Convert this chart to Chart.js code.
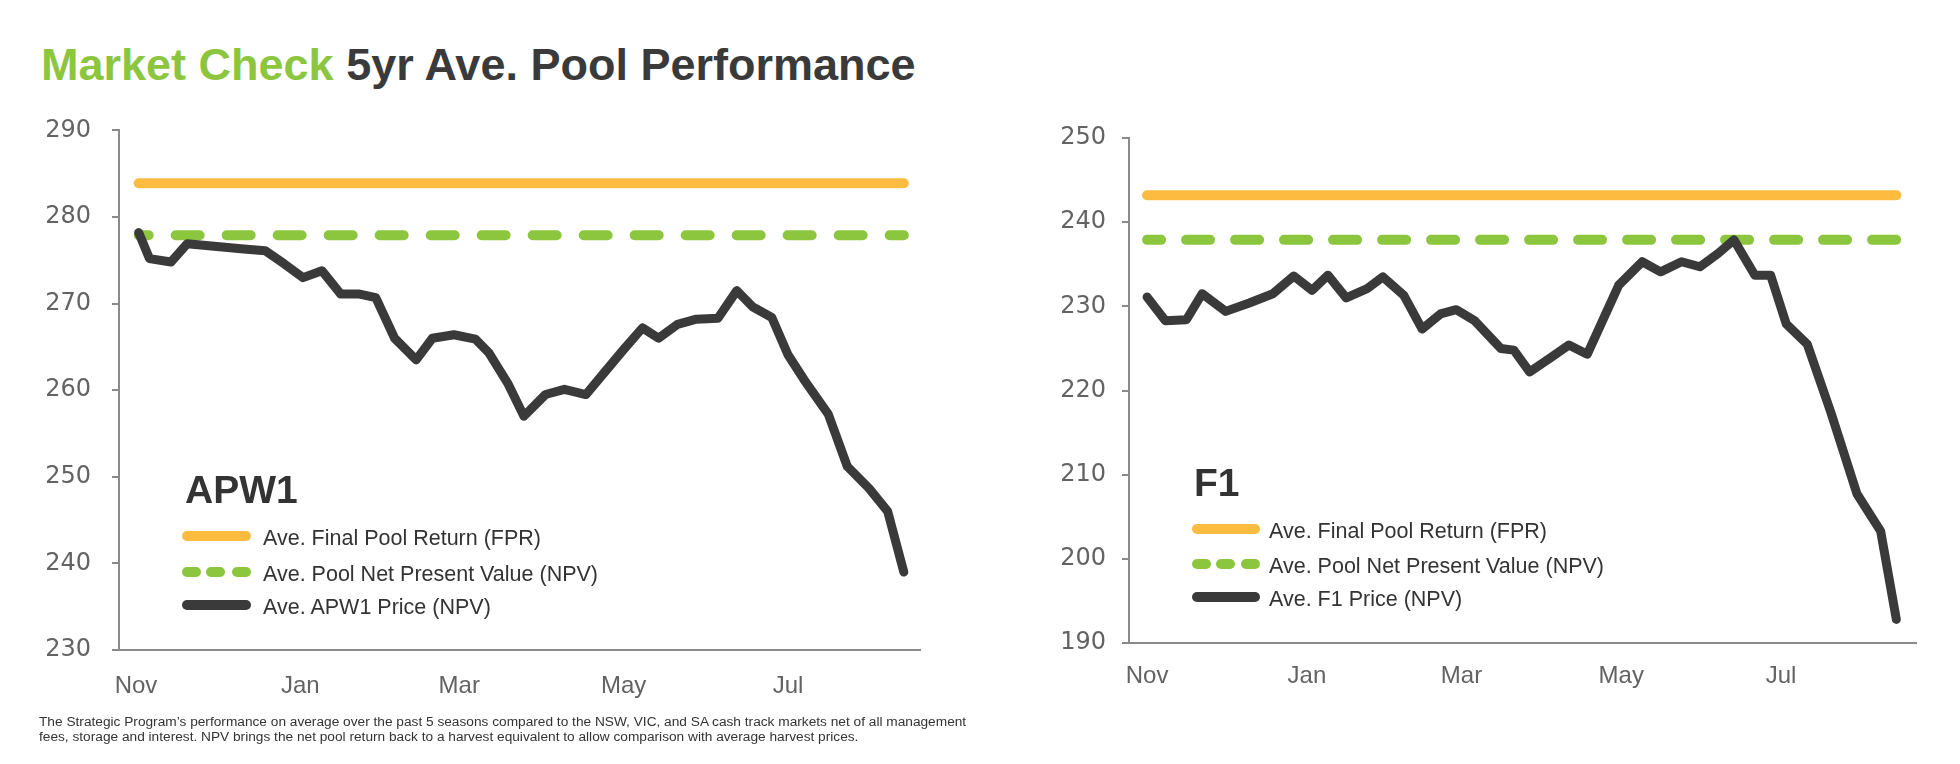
<!DOCTYPE html>
<html>
<head>
<meta charset="utf-8">
<script src="https://cdn.jsdelivr.net/npm/chart.js@4.4.1/dist/chart.umd.min.js"></script>
<style>
  body { margin: 0; width: 1960px; height: 764px; background: #fff; position: relative; overflow: hidden;
         font-family: "Liberation Sans", Arial, sans-serif; }
  .title { position: absolute; left: 41px; top: 42px; font-size: 45px; line-height: 45px; font-weight: bold;
           color: #3a3a3a; white-space: nowrap; }
  .title .green { color: #8cc63f; }
  canvas { position: absolute; }
  .legend { position: absolute; color: #333; }
  .legend .name { position: absolute; left: 0; font-size: 39px; line-height: 39px; font-weight: bold; color: #333; white-space: nowrap; }
  .legend .row { position: absolute; left: 0; height: 22px; white-space: nowrap; }
  .legend .sw { position: absolute; left: 0; top: 6px; height: 10px; border-radius: 5px; }
  .legend .dots { position: absolute; left: 0; top: 6px; height: 10px; }
  .legend .dots span { position: absolute; top: 0; width: 19px; height: 10px; border-radius: 5px; background: #8cc63f; }
  .legend .txt { position: absolute; top: 2px; font-size: 21.5px; line-height: 22px; }
  .note { position: absolute; left: 39px; top: 715px; font-size: 13.7px; line-height: 14.5px; color: #333; white-space: nowrap; }
</style>
</head>
<body>
<div class="title"><span class="green">Market Check</span> 5yr Ave. Pool Performance</div>

<canvas id="apw1" width="940" height="620" style="left:0;top:95px"></canvas>
<canvas id="f1" width="960" height="620" style="left:980px;top:100px"></canvas>

<div class="legend" style="left:182px;top:0">
  <div class="name" style="top:470px;left:3px">APW1</div>
  <div class="row" style="top:525px"><div class="sw" style="width:69px;background:#fdbb40"></div><div class="txt" style="left:81px">Ave. Final Pool Return (FPR)</div></div>
  <div class="row" style="top:561px"><div class="dots"><span style="left:0"></span><span style="left:24px"></span><span style="left:50px"></span></div><div class="txt" style="left:81px">Ave. Pool Net Present Value (NPV)</div></div>
  <div class="row" style="top:594px"><div class="sw" style="width:69px;background:#3a3a3a"></div><div class="txt" style="left:81px">Ave. APW1 Price (NPV)</div></div>
</div>

<div class="legend" style="left:1192px;top:0">
  <div class="name" style="top:463px;left:2px">F1</div>
  <div class="row" style="top:518px"><div class="sw" style="width:68px;background:#fdbb40"></div><div class="txt" style="left:77px">Ave. Final Pool Return (FPR)</div></div>
  <div class="row" style="top:553px"><div class="dots"><span style="left:0"></span><span style="left:24px"></span><span style="left:49px"></span></div><div class="txt" style="left:77px">Ave. Pool Net Present Value (NPV)</div></div>
  <div class="row" style="top:586px"><div class="sw" style="width:68px;background:#3a3a3a"></div><div class="txt" style="left:77px">Ave. F1 Price (NPV)</div></div>
</div>

<div class="note">The Strategic Program’s performance on average over the past 5 seasons compared to the NSW, VIC, and SA cash track markets net of all management<br>fees, storage and interest. NPV brings the net pool return back to a harvest equivalent to allow comparison with average harvest prices.</div>

<script>
// x values are days since 1 Nov
const monthDays = [0, 61, 120, 181, 242];
const monthLabels = ['Nov', 'Jan', 'Mar', 'May', 'Jul'];

const apw1Days = [1, 5, 13, 19, 26, 33, 40, 48, 55, 62, 69, 76, 83, 89, 96, 104, 110, 118, 126, 131, 138,
    144, 152, 159, 167, 174, 181, 188, 194, 201, 208, 216, 223, 229, 236, 242, 248, 257, 264, 272, 279, 285];
const apw1Price = [278.2, 275.2, 274.8, 276.9, 276.7, 276.5, 276.3, 276.1, 274.6, 273.0, 273.8, 271.1, 271.1,
    270.7, 266.0, 263.5, 266.0, 266.4, 265.9, 264.3, 260.8, 257.0, 259.5, 260.1, 259.5, 262.1, 264.7, 267.2,
    266.0, 267.6, 268.2, 268.3, 271.5, 269.6, 268.4, 264.1, 261.2, 257.2, 251.2, 248.7, 246.0, 239.0];
const apw1Fpr = 283.9;
const apw1Npv = 277.9;

const f1Days = [0, 7, 15, 21, 30, 39, 48, 56, 63, 69, 76, 84, 90, 98, 105, 112, 118, 125, 135, 140, 146, 154,
    161, 168, 174, 180, 189, 196, 204, 211, 218, 224, 232, 238, 244, 252, 261, 271, 280, 286];
const f1Price = [231.1, 228.3, 228.4, 231.5, 229.4, 230.4, 231.5, 233.6, 231.9, 233.7, 231.0, 232.1, 233.5,
    231.3, 227.3, 229.1, 229.6, 228.3, 225.0, 224.8, 222.2, 223.9, 225.4, 224.3, 228.4, 232.5, 235.3, 234.1,
    235.3, 234.7, 236.3, 237.9, 233.7, 233.7, 227.9, 225.5, 217.4, 207.7, 203.3, 192.8];
const f1Fpr = 243.2;
const f1Npv = 237.9;

const axisGrey = '#8a8a8a';
const tickGrey = '#636363';

function flatLine(days, value) {
    return [{x: days[0], y: value}, {x: days[days.length - 1], y: value}];
}

function renderChart(id, days, price, fpr, npv, s) {
    let ctx = document.getElementById(id).getContext('2d');
    return new Chart(ctx, {
        type: 'line',
        data: {
            datasets: [{
                label: 'price',
                data: days.map((d, i) => ({x: d, y: price[i]})),
                borderColor: '#3a3a3a',
                borderWidth: 9,
                borderCapStyle: 'round',
                borderJoinStyle: 'round',
                pointRadius: 0,
                order: 0
            }, {
                label: 'npv',
                data: flatLine(days, npv),
                borderColor: '#8cc63f',
                borderWidth: 10,
                borderCapStyle: 'round',
                borderDash: s.dash,
                borderDashOffset: s.dashOffset,
                pointRadius: 0,
                order: 1
            }, {
                label: 'fpr',
                data: flatLine(days, fpr),
                borderColor: '#fdbb40',
                borderWidth: 10,
                borderCapStyle: 'round',
                pointRadius: 0,
                order: 2
            }]
        },
        options: {
            responsive: false,
            animation: false,
            events: [],
            layout: {padding: s.padding},
            plugins: {legend: {display: false}, tooltip: {enabled: false}},
            scales: {
                x: {
                    type: 'linear',
                    min: s.xMin,
                    max: s.xMax,
                    afterBuildTicks: (scale) => { scale.ticks = monthDays.map(v => ({value: v})); },
                    afterFit: (scale) => { scale.height = 60; },
                    grid: {display: false, drawTicks: false},
                    border: {display: true, color: axisGrey, width: 2},
                    ticks: {
                        autoSkip: false,
                        maxRotation: 0,
                        padding: s.xPad,
                        color: tickGrey,
                        font: {family: 'Liberation Sans', size: 24},
                        callback: (v) => monthLabels[monthDays.indexOf(v)]
                    }
                },
                y: {
                    min: s.yMin,
                    max: s.yMax,
                    afterFit: (scale) => { scale.width = s.yWidth; },
                    grid: {drawOnChartArea: false, drawTicks: true, tickLength: 7, color: axisGrey, lineWidth: 2},
                    border: {display: true, color: axisGrey, width: 2},
                    ticks: {
                        stepSize: 10,
                        padding: s.yPad,
                        color: tickGrey,
                        font: {family: 'DejaVu Sans', size: 24}
                    }
                }
            }
        }
    });
}

renderChart('apw1', apw1Days, apw1Price, apw1Fpr, apw1Npv, {
    xMin: -6.3, xMax: 291, yMin: 230, yMax: 290, yWidth: 119, yPad: 21, xPad: 22,
    padding: {top: 35, right: 20, bottom: 5, left: 0},
    dash: [24, 27], dashOffset: 14
});

renderChart('f1', f1Days, f1Price, f1Fpr, f1Npv, {
    xMin: -6.9, xMax: 293.5, yMin: 190, yMax: 250, yWidth: 149, yPad: 16, xPad: 19,
    padding: {top: 38, right: 24, bottom: 17, left: 0},
    dash: [24, 25], dashOffset: 10
});
</script>
</body>
</html>
